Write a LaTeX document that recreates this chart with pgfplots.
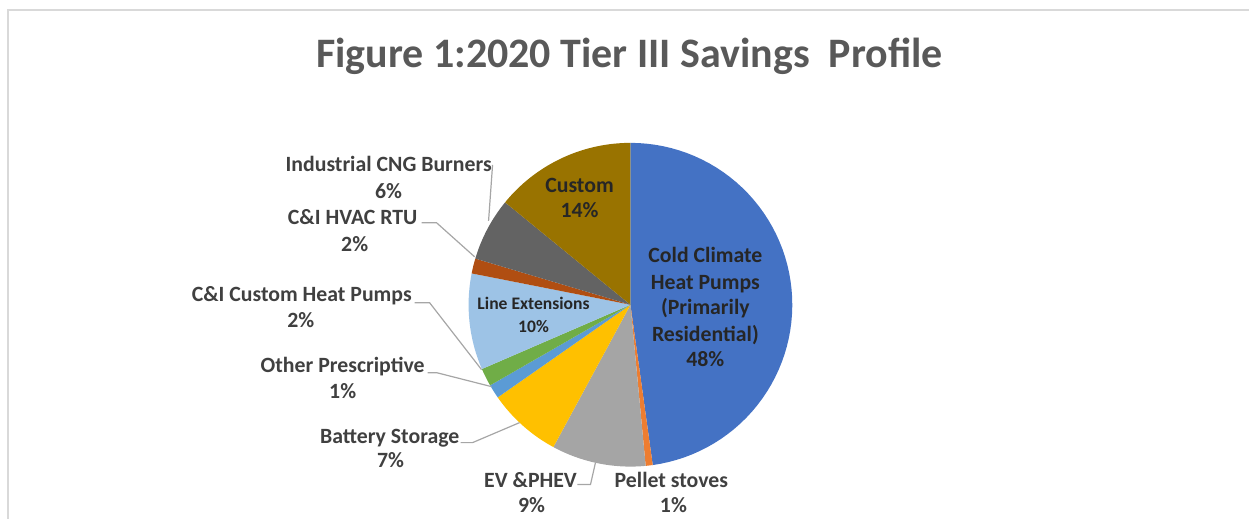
\documentclass[border=0pt]{standalone}
\usepackage{pgfplots}
\usepackage{pgfplotstable}
\pgfplotsset{compat=1.18}
\usepackage{fontspec}
\setmainfont{Carlito}
\definecolor{cBlue}{HTML}{4472C4}
\definecolor{cOrange}{HTML}{ED7D31}
\definecolor{cGray}{HTML}{A5A5A5}
\definecolor{cGold}{HTML}{FFC000}
\definecolor{cBlueB}{HTML}{5B9BD5}
\definecolor{cGreen}{HTML}{70AD47}
\definecolor{cLight}{HTML}{9DC3E6}
\definecolor{cBrown}{HTML}{B04E12}
\definecolor{cDGray}{HTML}{636363}
\definecolor{cCustom}{HTML}{997300}
\definecolor{frame}{HTML}{D9D9D9}
\definecolor{lead}{HTML}{A6A6A6}
\definecolor{lbl}{HTML}{404040}
\definecolor{inl}{HTML}{262626}
\definecolor{ttl}{HTML}{595959}
\pgfplotstableread{
share color
47.8 cBlue
0.7 cOrange
9.4 cGray
7.4 cGold
1.4 cBlueB
1.8 cGreen
9.6 cLight
1.5 cBrown
6.3 cDGray
14.1 cCustom
}\piedata
\newcommand\lblfont{\fontsize{10.9bp}{13bp}\selectfont\bfseries}
\newcommand\smallfont{\fontsize{8.8bp}{10bp}\selectfont\bfseries}
\begin{document}
\begin{tikzpicture}
\begin{axis}[scale only axis, width=625bp, height=259.5bp,
  xmin=0, xmax=1250, ymin=0, ymax=519, hide axis, clip=false]
\path (axis cs:0,0) rectangle (axis cs:1250,519);
\draw[color=frame, line width=1.1bp] (axis cs:8,0) -- (axis cs:8,509) -- (axis cs:1250,509);
\pgfplotstablegetrowsof{\piedata}
\pgfmathtruncatemacro\N{\pgfplotsretval-1}
\gdef\cum{0}
\foreach \i in {0,...,\N}{
  \pgfplotstablegetelem{\i}{share}\of\piedata \let\slv\pgfplotsretval
  \pgfplotstablegetelem{\i}{color}\of\piedata \let\slc\pgfplotsretval
  \pgfmathsetmacro\angA{90-3.6*\cum}
  \pgfmathsetmacro\newcum{\cum+\slv}
  \pgfmathsetmacro\angB{90-3.6*\newcum}
  \xdef\cum{\newcum}
  \edef\temp{\noexpand\addplot[fill=\slc, draw=none, domain=\angB:\angA, samples=60]
    ({631+162*cos(x)},{214+162*sin(x)}) -- (axis cs:631,214) -- cycle;}
  \temp
}
% title
\node[anchor=base, text=ttl, font=\fontsize{21bp}{25bp}\selectfont\bfseries] at (axis cs:630,451) {Figure 1:2020 Tier III Savings\ \ Profile};
% leader lines
\draw[lead, line width=0.6bp] (axis cs:493,354) -- (axis cs:489,298);
\draw[lead, line width=0.6bp] (axis cs:422,296) -- (axis cs:437,296) -- (axis cs:475,262);
\draw[lead, line width=0.6bp] (axis cs:415,216) -- (axis cs:430,216) -- (axis cs:482,149);
\draw[lead, line width=0.6bp] (axis cs:428,146) -- (axis cs:437,146) -- (axis cs:492,132);
\draw[lead, line width=0.6bp] (axis cs:461,76) -- (axis cs:473,76) -- (axis cs:520,96);
\draw[lead, line width=0.6bp] (axis cs:578,34) -- (axis cs:591,34) -- (axis cs:596,56);
% outside labels
\begin{scope}[every node/.style={anchor=base, text=lbl, font=\lblfont, inner sep=0pt}]
\node at (axis cs:389,347) {Industrial CNG Burners};
\node at (axis cs:389,320) {6\%};
\node at (axis cs:353,294) {C\&I HVAC RTU};
\node at (axis cs:355,267) {2\%};
\node at (axis cs:302,217) {C\&I Custom Heat Pumps};
\node at (axis cs:301,191) {2\%};
\node at (axis cs:343,146) {Other Prescriptive};
\node at (axis cs:343,120) {1\%};
\node at (axis cs:390,75) {Battery Storage};
\node at (axis cs:391,51) {7\%};
\node at (axis cs:531,31) {EV \&PHEV};
\node at (axis cs:532,6) {9\%};
\node at (axis cs:672,31) {Pellet stoves};
\node at (axis cs:674,6) {1\%};
\end{scope}
% inside labels
\begin{scope}[every node/.style={anchor=base, text=inl, font=\lblfont, inner sep=0pt}]
\node at (axis cs:580,326) {Custom};
\node at (axis cs:580,301) {14\%};
\node at (axis cs:706,256) {Cold Climate};
\node at (axis cs:706,229) {Heat Pumps};
\node at (axis cs:706,204) {(Primarily};
\node at (axis cs:706,177) {Residential)};
\node at (axis cs:706,152) {48\%};
\node[font=\smallfont] at (axis cs:534,209) {Line Extensions};
\node[font=\smallfont] at (axis cs:534,186) {10\%};
\end{scope}
\end{axis}
\end{tikzpicture}
\end{document}
